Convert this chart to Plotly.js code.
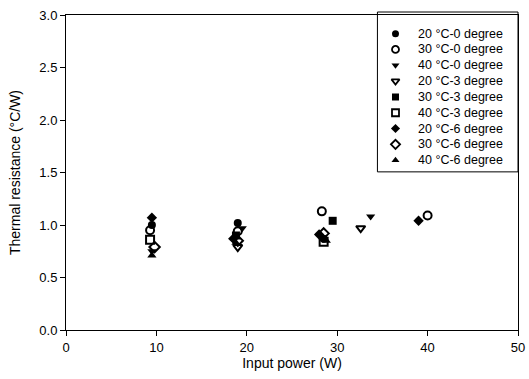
<!DOCTYPE html>
<html><head><meta charset="utf-8">
<script src="https://cdn.plot.ly/plotly-3.0.1.min.js"></script>
<style>html,body{margin:0;padding:0;background:#fff}#c{width:529px;height:379px}</style>
</head><body><div id="c"></div>
<script>
const seriesNames = ["20 °C-0 degree","30 °C-0 degree","40 °C-0 degree","20 °C-3 degree","30 °C-3 degree","40 °C-3 degree","20 °C-6 degree","30 °C-6 degree","40 °C-6 degree"];
const seriesSymbols = ["circle","circle-open","triangle-down","triangle-down-open","square","square-open","diamond","diamond-open","triangle-up"];
const power_20C_0 = [9.5, 19.0, 28.5];
const rth_20C_0   = [1.00, 1.02, 0.87];
const power_30C_0 = [9.3, 19.0, 28.3, 40.0];
const rth_30C_0   = [0.95, 0.94, 1.13, 1.09];
const power_40C_0 = [9.5, 19.5, 33.7];
const rth_40C_0   = [0.75, 0.97, 1.08];
const power_20C_3 = [19.0, 32.6];
const rth_20C_3   = [0.79, 0.97];
const power_30C_3 = [18.8, 29.5];
const rth_30C_3   = [0.90, 1.04];
const power_40C_3 = [9.3, 28.5];
const rth_40C_3   = [0.86, 0.84];
const power_20C_6 = [9.5, 18.5, 28.0, 39.0];
const rth_20C_6   = [1.07, 0.87, 0.91, 1.04];
const power_30C_6 = [9.8, 19.0, 28.5];
const rth_30C_6   = [0.79, 0.85, 0.92];
const power_40C_6 = [9.5, 18.8, 28.8];
const rth_40C_6   = [0.71, 0.83, 0.85];

const xs = [power_20C_0,power_30C_0,power_40C_0,power_20C_3,power_30C_3,power_40C_3,power_20C_6,power_30C_6,power_40C_6];
const ys = [rth_20C_0,rth_30C_0,rth_40C_0,rth_20C_3,rth_30C_3,rth_40C_3,rth_20C_6,rth_30C_6,rth_40C_6];

const isOpen = s => s.endsWith('open');
const traces = seriesNames.map((n,i)=>({
  type:'scatter', mode:'markers', name:n, x:xs[i], y:ys[i], showlegend:false,
  marker:{symbol:seriesSymbols[i], size:8, color:'#000', line:{color:'#000', width: isOpen(seriesSymbols[i])?2:0}}
}));

// Custom legend (compact row spacing like the original), on its own small axes
const legendRows = seriesNames.map((_,i)=>i);
traces.push({
  type:'scatter', mode:'markers', xaxis:'x2', yaxis:'y2', showlegend:false, hoverinfo:'skip',
  x: legendRows.map(()=>18), y: legendRows,
  marker:{symbol:seriesSymbols, size:7, color:'#000', line:{color:'#000', width:seriesSymbols.map(s=>isOpen(s)?1.8:0)}}
});

const font = {family:'"Liberation Sans", Arial, sans-serif', color:'#000'};
const annotations = seriesNames.map((n,i)=>({
  xref:'x2', yref:'y2', x:38, y:i, text:n, showarrow:false, xanchor:'left', yanchor:'middle',
  font:Object.assign({size:12.5}, font)
}));

const layout = {
  width:529, height:379, paper_bgcolor:'#fff', plot_bgcolor:'rgba(0,0,0,0)',
  margin:{l:66, r:11, t:15, b:49},
  font:Object.assign({size:13}, font),
  showlegend:false,
  annotations: annotations,
  shapes:[{type:'rect', xref:'paper', yref:'paper', x0:0.689, x1:1.0, y0:0.502, y1:1.0095,
           line:{color:'#000', width:1}, fillcolor:'#fff', layer:'below'}],
  xaxis:{range:[0,50], dtick:10, tick0:0, showgrid:false, zeroline:false, showline:true, linecolor:'#000', linewidth:1, mirror:true, ticks:'outside', ticklen:5, tickcolor:'#000', tickfont:Object.assign({size:13}, font),
    title:{text:'Input power (W)', font:Object.assign({size:14}, font), standoff:1}},
  yaxis:{range:[0,3], dtick:0.5, tick0:0, tickformat:'.1f', showgrid:false, zeroline:false, showline:true, linecolor:'#000', linewidth:1, mirror:true, ticks:'outside', ticklen:5, tickcolor:'#000', tickfont:Object.assign({size:13}, font),
    title:{text:'Thermal resistance (°C/W)', font:Object.assign({size:14}, font), standoff:15}},
  xaxis2:{domain:[0.689,1.0], range:[0,140], anchor:'y2', visible:false, fixedrange:true},
  yaxis2:{domain:[0.502,1.0095], range:[8.74,-1.18], anchor:'x2', visible:false, fixedrange:true}
};
Plotly.newPlot('c', traces, layout, {displayModeBar:false, staticPlot:true});
</script></body></html>
